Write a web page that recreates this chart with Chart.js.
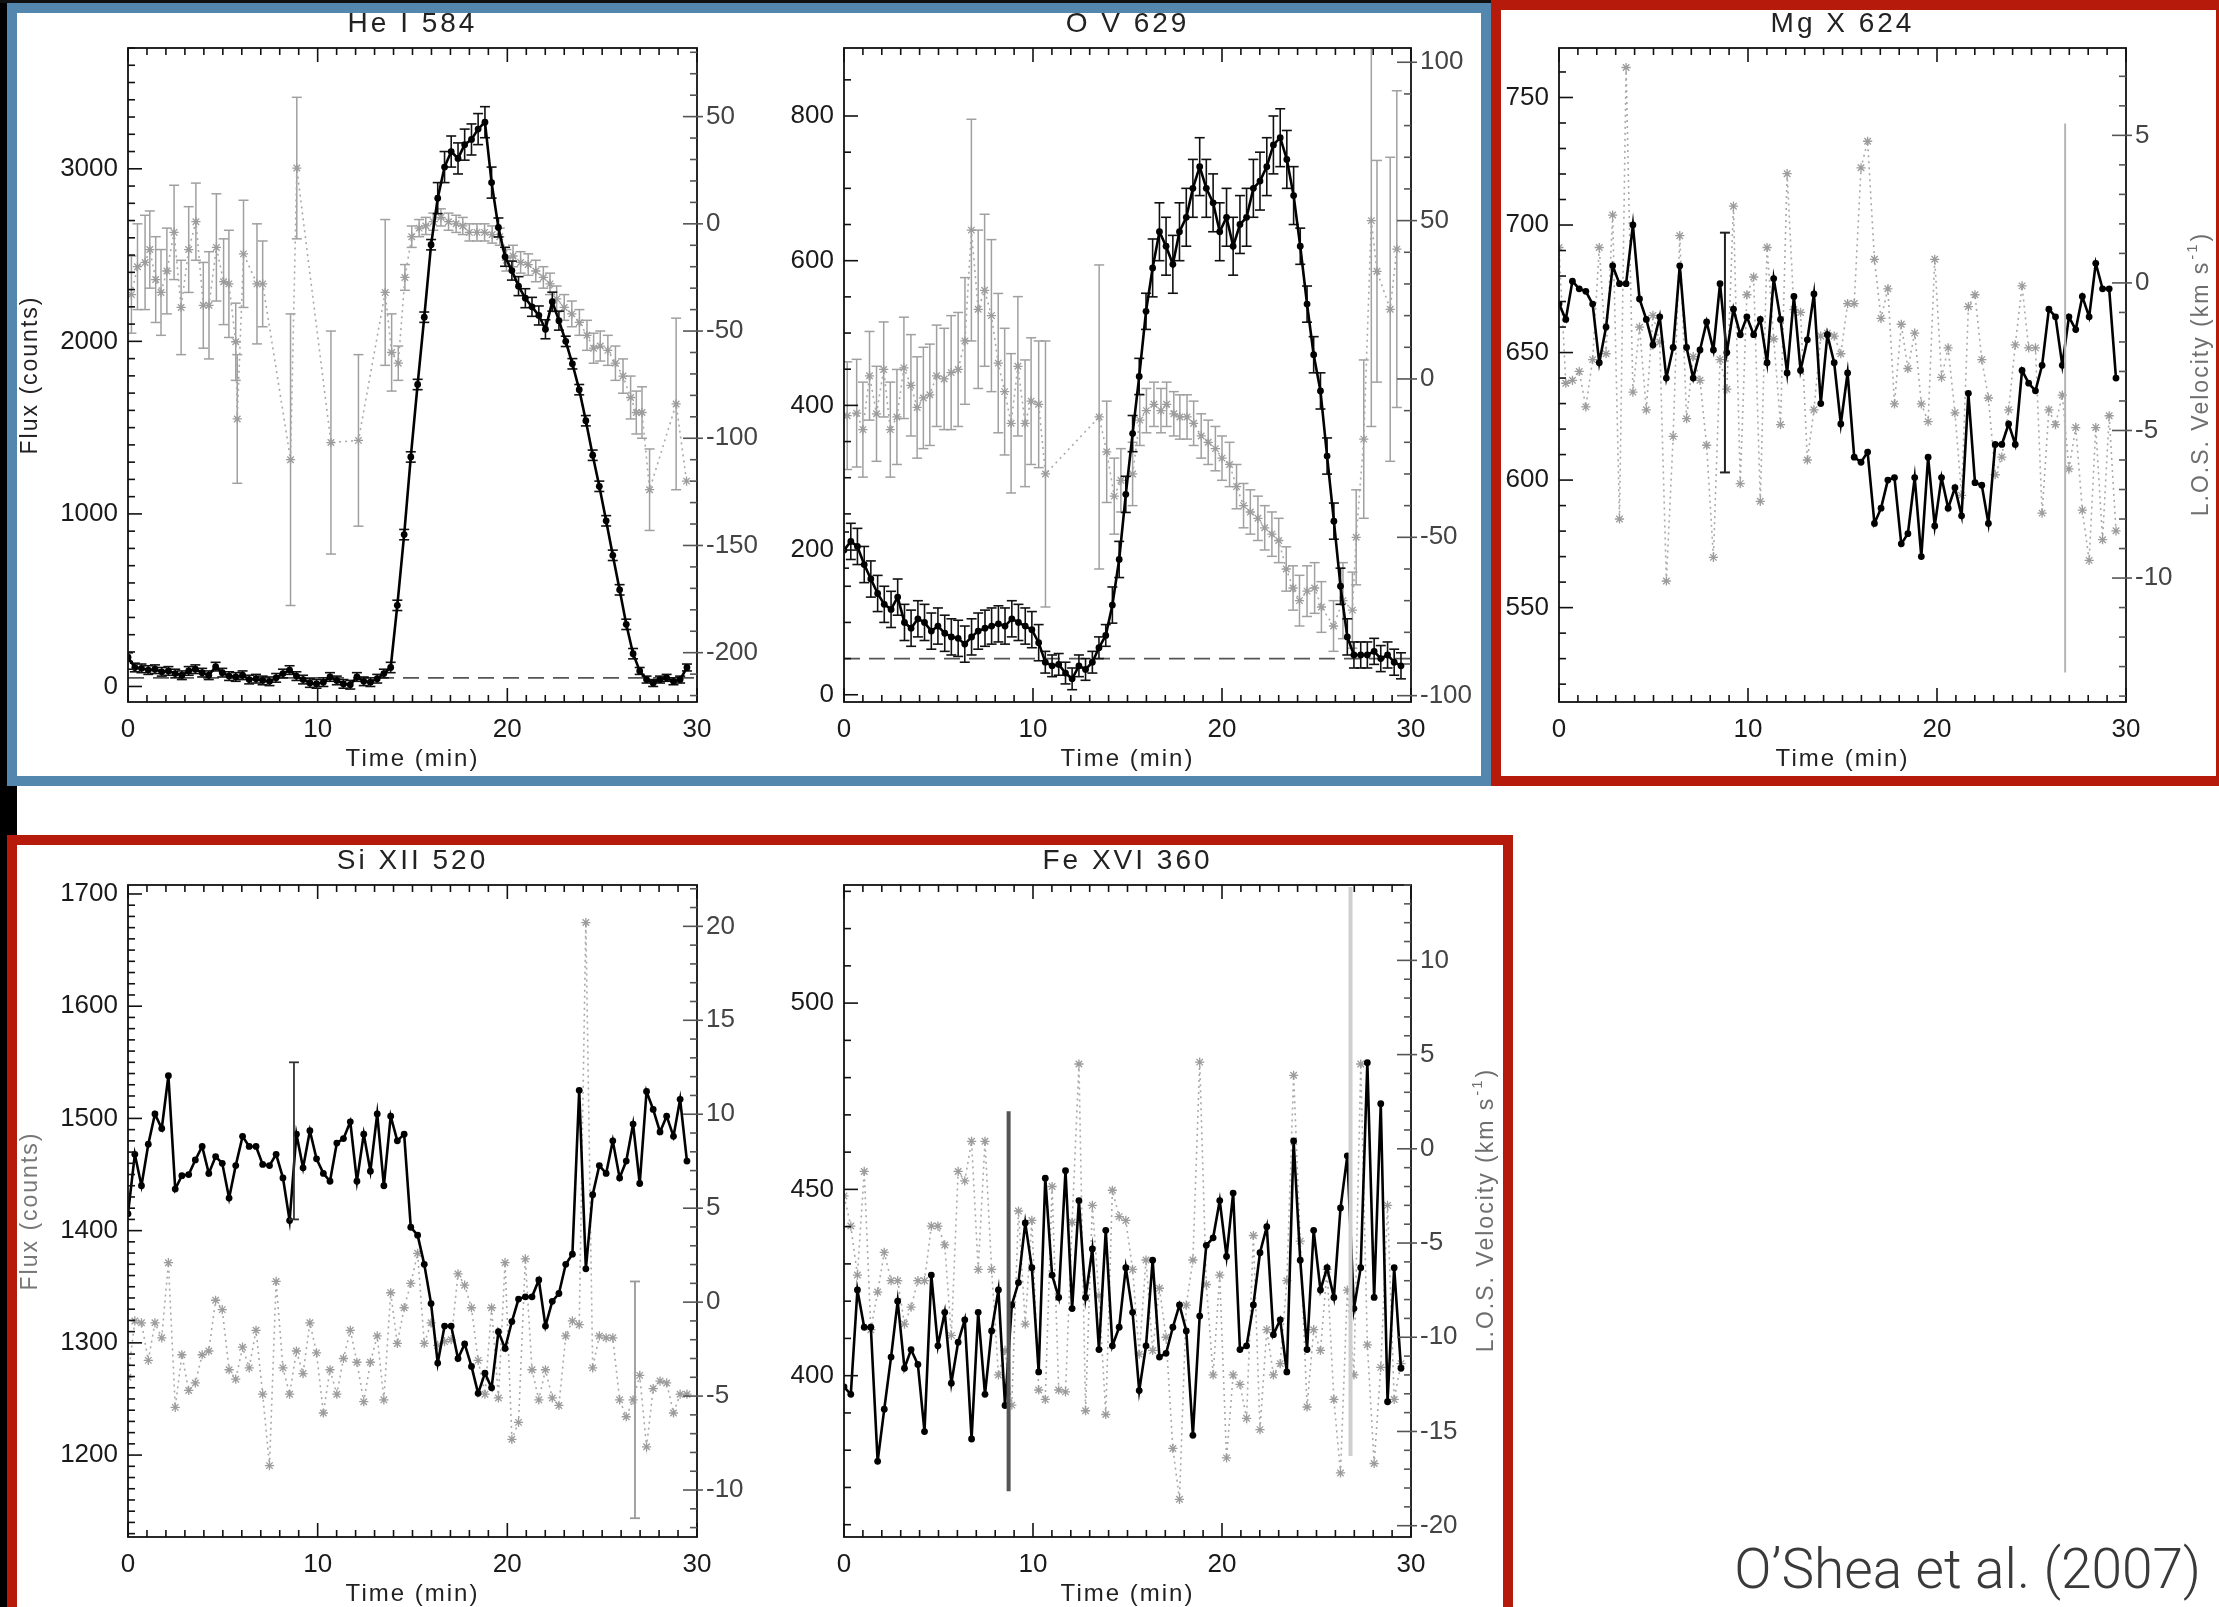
<!DOCTYPE html>
<html><head><meta charset="utf-8">
<script src="https://cdn.jsdelivr.net/npm/chart.js@4.4.1/dist/chart.umd.min.js"></script>
<style>
html,body{margin:0;padding:0;background:#fff;}
body{width:2219px;height:1607px;position:relative;overflow:hidden;}
.box{position:absolute;box-sizing:border-box;}
canvas{position:absolute;}
#cite{position:absolute;right:18px;top:1542px;font-family:Roboto,"Liberation Sans",Arial,sans-serif;font-weight:300;font-size:55px;line-height:55px;color:#3a3a3a;white-space:nowrap;}
</style></head><body>
<div class="box" style="left:0;top:0;width:7px;height:1607px;background:#000"></div>
<div class="box" style="left:0;top:786px;width:17px;height:49px;background:#000"></div>
<div class="box" style="left:0;top:0;width:2219px;height:3px;background:#111"></div>
<div class="box" style="left:7px;top:3px;width:1484px;height:783px;border:10px solid #5487ae"></div>
<div class="box" style="left:1491px;top:0px;width:735px;height:786px;border:10px solid #b51a0b"></div>
<div class="box" style="left:7px;top:835px;width:1506px;height:800px;border:10px solid #b51a0b"></div>
<div id="cite">O’Shea et al. (2007)</div>
<script>
// ---------- DATA ----------
const T = [0.00,0.36,0.71,1.07,1.42,1.78,2.13,2.49,2.84,3.20,3.55,3.91,4.26,4.62,4.97,5.33,5.68,6.04,6.39,6.75,
7.10,7.46,7.81,8.17,8.52,8.88,9.23,9.59,9.94,10.30,10.65,11.01,11.36,11.72,12.07,12.43,12.78,13.14,13.49,13.85,
14.20,14.56,14.91,15.27,15.62,15.98,16.33,16.69,17.04,17.40,17.75,18.11,18.46,18.82,19.17,19.53,19.88,20.24,20.59,20.95,
21.30,21.66,22.01,22.37,22.72,23.08,23.43,23.79,24.14,24.50,24.85,25.21,25.56,25.92,26.27,26.63,26.98,27.34,27.69,28.05,
28.40,28.76,29.11,29.47];

const TITLES = ['He I 584','O V 629','Mg X 624','Si XII 520','Fe XVI 360'];
const X_TICKS = [0,10,20,30];

// He I 584
const HE_FLUX = [170,110,105,95,100,85,90,75,65,90,100,80,65,115,80,60,55,65,40,45,
35,30,50,75,95,60,40,20,15,25,55,35,15,10,55,30,25,45,75,110,
470,880,1330,1750,2140,2560,2830,3010,3100,3060,3140,3170,3230,3270,2920,2660,2490,2410,2320,2250,
2200,2150,2070,2230,2120,2000,1870,1720,1540,1340,1160,960,760,560,360,190,90,40,20,40,
50,30,40,110];
const HE_FLUX_ERR = [25,25,25,25,25,25,25,25,25,25,25,25,25,25,25,25,25,25,25,25,
25,25,25,25,25,25,25,25,25,25,25,25,25,25,25,25,25,25,25,30,
30,30,30,30,30,30,90,90,90,90,90,90,90,90,90,55,55,55,55,55,
55,55,55,55,55,30,30,30,30,30,30,30,30,30,30,30,20,20,20,20,
20,20,20,20];
const HE_VEL_T = [0.18,0.50,0.90,1.15,1.46,1.74,2.05,2.43,2.80,3.20,3.58,3.97,4.27,4.66,5.04,5.32,5.68,5.76,6.09,6.80,
7.10,8.57,8.90,10.70,12.15,13.56,13.90,14.25,14.60,14.96,15.35,15.70,16.10,16.50,16.90,17.30,17.65,18.00,18.40,18.80,
19.20,19.60,19.95,20.30,20.70,21.10,21.50,21.90,22.25,22.60,23.00,23.40,23.80,24.20,24.55,24.90,25.30,25.70,26.10,26.50,
26.80,27.10,27.50,28.90,29.45];
const HE_VEL = [-33,-20,-18,-12,-26,-32,-22,-4,-39,-12,1,-38,-38,-11,-27,-28,-55,-91,-14,-28,
-28,-110,26,-102,-101,-32,-60,-65,-25,-6,-2,-1,1,3,1,0,-1,-4,-4,-4,
-5,-6,-17,-15,-18,-19,-22,-25,-28,-35,-39,-42,-46,-52,-58,-57,-59,-65,-71,-81,
-88,-88,-124,-84,-120];
const HE_VEL_ERR = [18,20,22,18,20,20,20,22,22,20,18,20,25,25,20,25,18,30,25,28,
20,68,33,52,40,34,18,8,6,5,4,4,4,4,4,4,4,4,4,4,
4,4,5,5,5,5,5,5,5,6,6,6,6,7,7,7,7,8,8,10,
10,12,19,40,0];
const HE_BACKGROUND = 50;
const HE_LEFT_TICKS = [0,1000,2000,3000];
const HE_RIGHT_TICKS = [50,0,-50,-100,-150,-200];

// O V 629
const OV_FLUX = [200,212,205,180,160,140,125,118,135,100,92,105,100,88,95,85,80,78,70,80,
88,92,95,98,95,105,100,95,90,72,45,40,42,30,22,40,35,45,65,82,
124,187,277,361,440,530,590,640,620,595,640,660,700,730,700,680,640,660,620,650,
660,700,710,730,760,770,740,690,620,540,470,420,330,240,150,80,55,55,55,60,
50,55,45,40];
const OV_FLUX_ERR = [25,25,25,25,25,25,25,25,25,25,25,25,25,25,25,25,25,25,25,25,
25,25,25,25,25,25,25,25,25,25,15,15,15,15,15,15,15,15,15,15,
25,25,25,25,25,25,40,40,40,40,40,40,40,40,40,40,40,40,40,40,
40,40,40,40,40,40,40,40,25,25,25,25,25,25,25,25,18,18,18,18,
18,18,18,18];
const OV_VEL_T = [0.17,0.67,1.00,1.35,1.72,2.10,2.45,2.80,3.17,3.54,3.87,4.20,4.54,4.90,5.30,5.67,6.04,6.40,6.74,7.10,
7.44,7.80,8.16,8.50,8.84,9.20,9.58,9.90,10.30,10.66,13.50,13.90,14.30,14.65,15.27,15.65,16.00,16.40,16.77,17.07,
17.45,17.77,18.15,18.50,18.90,19.27,19.65,20.00,20.40,20.77,21.14,21.50,21.90,22.26,22.64,23.00,23.40,23.76,24.10,24.50,
24.90,25.26,25.90,26.40,26.90,27.10,27.50,27.90,28.20,28.90,29.25];
const OV_VEL = [-11.6,-10.8,-16,1,-11,3,-16,-12,3.5,-2,-9,-6,-5,1,0,2,3,12,47,22,
28,20,5,-4,-14,4,-14,-7,-8,-30,-12,-23,-37,-32,-30,-13,-10,-8,-10,-8,
-11,-12,-12,-14,-18,-20,-22,-25,-27,-34,-40,-42,-44,-47,-49,-51,-60,-66,-70,-67,
-66,-72,-78,-70,-73,-50,-19,50,34,22,41];
const OV_VEL_ERR = [17,17,15,14,15,15,15,15,16,16,16,16,16,16,16,18,18,20,35,25,
24,24,22,20,22,22,20,20,20,42,48,16,12,10,10,8,7,7,7,7,
7,7,7,7,7,7,7,7,7,7,7,7,7,7,7,7,7,7,8,8,
8,8,8,12,12,15,25,65,35,48,50];
const OV_BACKGROUND = 50;
const OV_LEFT_TICKS = [0,200,400,600,800];
const OV_RIGHT_TICKS = [100,50,0,-50,-100];

// Mg X 624
const MG_FLUX = [669,663,678,675,674,669,646,660,684,677,677,700,671,663,653,664,640,652,684,652,
640,651,662,651,677,650,667,657,664,657,663,646,679,663,642,672,643,655,673,630,
657,646,622,642,609,607,611,583,589,600,601,575,579,601,570,609,582,601,589,597,
586,634,599,598,583,614,614,622,614,643,638,635,645,667,664,645,664,659,672,664,
685,675,675,640];
const MG_VEL = [1.2,-3.4,-3.3,-3.0,-4.2,-2.6,1.2,-2.4,2.3,-8.0,7.3,-3.7,-1.5,-4.3,-1.1,-2.0,-10.1,-5.2,1.6,-4.6,
-2.5,-3.3,-5.5,-9.3,-2.6,-3.6,2.6,-6.8,-0.4,0.2,-7.4,1.2,-1.9,-4.8,3.7,-0.9,-1.0,-6.0,-4.3,-1.8,
-1.7,-1.8,-2.4,-0.7,-0.7,3.9,4.8,0.8,-1.2,-0.2,-4.1,-1.4,-2.9,-1.7,-4.1,-4.7,0.8,-3.2,-2.2,-4.4,
-7.2,-0.8,-0.4,-2.6,-3.9,-6.5,-5.9,-4.3,-2.1,-0.1,-2.2,-2.2,-7.8,-4.3,-4.8,-3.8,-6.3,-4.9,-7.7,-9.4,
-4.9,-8.7,-4.5,-8.4];
const MG_FLUX_BAR = [8.78, 650, 47];     // time, value, half-error
const MG_VEL_BAR = [26.78, -3.9, 9.3];
const MG_LEFT_TICKS = [550,600,650,700,750];
const MG_RIGHT_TICKS = [5,0,-5,-10];

// Si XII 520
const SI_FLUX = [1415,1468,1440,1477,1504,1491,1538,1437,1449,1450,1463,1475,1451,1466,1460,1429,1458,1484,1475,1475,
1459,1458,1468,1447,1409,1486,1456,1489,1464,1451,1444,1478,1482,1497,1444,1486,1453,1504,1440,1502,
1480,1486,1403,1396,1370,1335,1282,1315,1315,1286,1299,1279,1255,1273,1260,1310,1295,1319,1339,1341,
1341,1356,1315,1337,1344,1370,1379,1525,1366,1432,1458,1451,1480,1447,1462,1495,1442,1524,1508,1488,
1502,1484,1517,1462];
const SI_VEL = [-4.0,-1.0,-1.1,-3.1,-1.1,-1.9,2.1,-5.6,-2.8,-4.7,-4.3,-2.8,-2.6,0.1,-0.4,-3.6,-4.1,-2.4,-3.5,-1.5,
-4.9,-8.7,1.1,-3.5,-4.9,-2.6,-3.8,-1.1,-2.7,-5.9,-3.6,-4.9,-3.0,-1.5,-3.2,-5.3,-3.2,-1.8,-5.2,0.5,
-2.2,-0.3,1.0,2.6,-2.2,-1.1,-2.3,-2.1,-2.0,1.5,0.9,-0.3,-3.1,-4.9,-0.3,-5.1,2.1,-7.3,-6.4,2.3,
-3.6,-5.2,-3.6,-5.1,-5.5,-1.8,-1.0,-1.2,20.2,-3.5,-1.8,-1.9,-1.9,-5.2,-6.1,-5.2,-3.9,-7.7,-4.6,-4.2,
-4.3,-5.9,-4.9,-4.9];
const SI_FLUX_BAR = [8.75, 1480, 70];
const SI_VEL_BAR = [26.73, -5.2, 6.3];
const SI_LEFT_TICKS = [1200,1300,1400,1500,1600,1700];
const SI_RIGHT_TICKS = [20,15,10,5,0,-5,-10];

// Fe XVI 360
const FE_FLUX = [397,395,423,413,413,377,391,405,420,402,407,403,385,427,408,417,398,409,415,383,
417,395,412,423,392,419,425,441,429,401,453,427,421,455,418,447,421,434,407,439,
408,413,429,417,396,408,431,405,406,413,419,412,384,416,435,437,447,432,449,407,
408,419,433,440,411,415,401,463,431,407,439,423,429,421,445,459,418,429,484,421,
473,393,429,402];
const FE_VEL = [-2.5,-4.1,-6.7,-1.2,-9.6,-7.6,-5.5,-7.0,-7.0,-9.3,-8.4,-7.0,-7.0,-4.1,-4.1,-5.1,-9.9,-1.2,-1.7,0.4,
-6.4,0.4,-6.4,-12.0,-10.7,-13.6,-3.3,-9.3,-3.8,-12.8,-13.3,-2.0,-12.8,-12.9,-3.9,4.5,-13.9,-3.0,-7.8,-14.1,
-2.2,-3.6,-3.8,-6.4,-10.9,-5.9,-10.7,-7.4,-10.0,-15.9,-18.6,-8.3,-5.9,4.6,-7.2,-12.0,-6.7,-16.4,-12.0,-12.5,
-14.3,-4.6,-14.9,-9.6,-12.0,-11.4,-7.0,3.9,-4.9,-13.7,-9.6,-10.7,-6.4,-13.3,-17.2,-7.5,-12.0,4.5,-10.4,-16.7,
-11.6,-3.0,-13.3,-11.4];
const FE_FLUX_BAR = [8.71, 420, 51];
const FE_VEL_BAR = [26.8, -1.2, 15.1];
const FE_LEFT_TICKS = [400,450,500];
const FE_RIGHT_TICKS = [10,5,0,-5,-10,-15,-20];

// ---------- RENDERING ----------
const FONT = '"Liberation Sans", Arial, Helvetica, sans-serif';
Chart.defaults.font.family = FONT;

function pts(ts, vs){ return ts.map((t,i)=>({x:t, y:vs[i]})); }

function fluxSet(vals, errs){
  return {data:pts(T, vals), yAxisID:'y', borderColor:'#000', borderWidth:2.6, tension:0,
    pointStyle:'circle', pointRadius:3.4, pointBackgroundColor:'#000', pointBorderColor:'#000', pointBorderWidth:0,
    errs:errs, errColor:'#111', errWidth:1.6, capW:5, order:1};
}
function velSet(ts, vals, errs){
  return {data:pts(ts, vals), yAxisID:'y2', borderColor:'#a9a9a9', borderWidth:1.6, borderDash:[2,4], tension:0,
    pointStyle:'star', pointRadius:4.6, pointBorderColor:'#9c9c9c', pointBackgroundColor:'#9c9c9c', pointBorderWidth:1.3,
    errs:errs, errColor:'#a0a0a0', errWidth:1.5, capW:5, order:2};
}
function bgSet(level){
  return {data:[{x:0,y:level},{x:30,y:level}], yAxisID:'y', borderColor:'#555', borderWidth:1.6,
    borderDash:[16,9], pointRadius:0, order:3};
}
function barSet(bar, axis, color, width, cap){
  return {data:[{x:bar[0], y:bar[1]}], yAxisID:axis, showLine:false, pointRadius:0,
    errs:[bar[2]], errColor:color, errWidth:width, capW:cap, order:0};
}

const PANELS = [
 {title:TITLES[0], area:[128,48,697,702], yl:[-90,3700], yr:[-223,82], lTicks:HE_LEFT_TICKS, rTicks:HE_RIGHT_TICKS, lMinor:100, rMinor:10,
  leftTitle:'Flux (counts)', leftTitleColor:'#222', rightTitle:false,
  datasets:[fluxSet(HE_FLUX,HE_FLUX_ERR), velSet(HE_VEL_T,HE_VEL,HE_VEL_ERR), bgSet(HE_BACKGROUND)]},
 {title:TITLES[1], area:[844,48,1411,702], yl:[-10,894], yr:[-102,104.5], lTicks:OV_LEFT_TICKS, rTicks:OV_RIGHT_TICKS, lMinor:50, rMinor:10,
  leftTitle:null, rightTitle:false,
  datasets:[fluxSet(OV_FLUX,OV_FLUX_ERR), velSet(OV_VEL_T,OV_VEL,OV_VEL_ERR), bgSet(OV_BACKGROUND)]},
 {title:TITLES[2], area:[1559,48,2126,702], yl:[513,769.4], yr:[-14.2,7.96], lTicks:MG_LEFT_TICKS, rTicks:MG_RIGHT_TICKS, lMinor:10, rMinor:1,
  leftTitle:null, rightTitle:true,
  datasets:[fluxSet(MG_FLUX,null), velSet(T,MG_VEL,null), barSet(MG_FLUX_BAR,'y','#222',2,5), barSet(MG_VEL_BAR,'y2','#b5b5b5',2,0)]},
 {title:TITLES[3], area:[128,885,697,1537], yl:[1127,1708], yr:[-12.5,22.2], lTicks:SI_LEFT_TICKS, rTicks:SI_RIGHT_TICKS, lMinor:10, rMinor:1,
  leftTitle:'Flux (counts)', leftTitleColor:'#777', rightTitle:false,
  datasets:[fluxSet(SI_FLUX,null), velSet(T,SI_VEL,null), barSet(SI_FLUX_BAR,'y','#333',1.8,5), barSet(SI_VEL_BAR,'y2','#999',1.8,5)]},
 {title:TITLES[4], area:[844,885,1411,1537], yl:[356.7,531.7], yr:[-20.6,14.0], lTicks:FE_LEFT_TICKS, rTicks:FE_RIGHT_TICKS, lMinor:10, rMinor:1,
  leftTitle:null, rightTitle:true,
  datasets:[fluxSet(FE_FLUX,null), velSet(T,FE_VEL,null), barSet(FE_FLUX_BAR,'y','#555',4,0), barSet(FE_VEL_BAR,'y2','#cfcfcf',4,0)]}
];

function line(ctx,x1,y1,x2,y2){ ctx.beginPath(); ctx.moveTo(x1,y1); ctx.lineTo(x2,y2); ctx.stroke(); }

function makePanel(p){
  const padL=110, padR=100, padT=50, padB=80;
  const [L,Tp,R,B] = p.area;
  const W = R-L+padL+padR, H = B-Tp+padT+padB;
  const cv = document.createElement('canvas');
  cv.width=W; cv.height=H;
  cv.style.left=(L-padL)+'px'; cv.style.top=(Tp-padT)+'px'; cv.style.width=W+'px'; cv.style.height=H+'px';
  document.body.appendChild(cv);

  const decor = {
    id:'decor'+p.title.replace(/\s/g,''),
    beforeDatasetDraw(chart, args){
      const ds = chart.data.datasets[args.index];
      if(!ds.errs) return;
      const xs = chart.scales.x, ys = chart.scales[ds.yAxisID], a = chart.chartArea, ctx = chart.ctx;
      ctx.save();
      ctx.beginPath(); ctx.rect(a.left, a.top, a.right-a.left, a.bottom-a.top); ctx.clip();
      ctx.strokeStyle = ds.errColor; ctx.lineWidth = ds.errWidth; ctx.setLineDash([]);
      ds.data.forEach((d,i)=>{
        const e = ds.errs[i]; if(!e) return;
        const x = xs.getPixelForValue(d.x), y1 = ys.getPixelForValue(d.y-e), y2 = ys.getPixelForValue(d.y+e);
        line(ctx,x,y1,x,y2);
        if(ds.capW){ line(ctx,x-ds.capW,y1,x+ds.capW,y1); line(ctx,x-ds.capW,y2,x+ds.capW,y2); }
      });
      ctx.restore();
    },
    afterDatasetsDraw(chart){
      const ctx=chart.ctx, a=chart.chartArea, xs=chart.scales.x, yl=chart.scales.y, yr=chart.scales.y2;
      ctx.save(); ctx.setLineDash([]); ctx.lineCap='butt';
      ctx.strokeStyle='#111'; ctx.lineWidth=1.8;
      ctx.strokeRect(a.left, a.top, a.right-a.left, a.bottom-a.top);
      ctx.lineWidth=1.6;
      for(let k=0;k<=30;k++){
        const x=xs.getPixelForValue(k), len=(k%10===0)?14:7;
        line(ctx,x,a.bottom,x,a.bottom-len); line(ctx,x,a.top,x,a.top+len);
      }
      for(let k=Math.ceil(yl.min/p.lMinor); k*p.lMinor<=yl.max; k++){
        const v=k*p.lMinor, y=yl.getPixelForValue(v);
        const major=p.lTicks.some(t=>Math.abs(t-v)<1e-6);
        line(ctx,a.left,y,a.left+(major?14:7),y);
      }
      ctx.strokeStyle='#555';
      for(let k=Math.ceil(yr.min/p.rMinor); k*p.rMinor<=yr.max; k++){
        const v=k*p.rMinor, y=yr.getPixelForValue(v);
        const major=p.rTicks.some(t=>Math.abs(t-v)<1e-6);
        line(ctx,a.right,y,a.right-(major?14:7),y);
        if(major) line(ctx,a.right,y,a.right+6,y);
      }
      ctx.restore();
    },
    afterDraw(chart){
      const ctx=chart.ctx, a=chart.chartArea;
      const cx=(a.left+a.right)/2, cy=(a.top+a.bottom)/2;
      ctx.save();
      ctx.textAlign='center'; ctx.textBaseline='middle';
      ctx.fillStyle='#222';
      ctx.letterSpacing='3px';
      ctx.font='28px '+FONT;
      ctx.fillText(p.title, cx, a.top-24);
      ctx.letterSpacing='2px';
      ctx.font='24px '+FONT;
      ctx.fillText('Time (min)', cx, a.bottom+57);
      if(p.leftTitle){
        ctx.save(); ctx.translate(a.left-97, cy); ctx.rotate(-Math.PI/2);
        ctx.fillStyle=p.leftTitleColor; ctx.font='23px '+FONT;
        ctx.fillText(p.leftTitle,0,0); ctx.restore();
      }
      if(p.rightTitle){
        ctx.save(); ctx.translate(a.right+76, cy); ctx.rotate(-Math.PI/2);
        ctx.fillStyle='#6e6e6e'; ctx.textAlign='left';
        const s1='L.O.S. Velocity (km s', s2='-1', s3=')';
        ctx.font='23px '+FONT; const w1=ctx.measureText(s1).width, w3=ctx.measureText(s3).width;
        ctx.font='15px '+FONT; const w2=ctx.measureText(s2).width;
        const x0=-(w1+w2+w3)/2;
        ctx.font='23px '+FONT; ctx.fillText(s1,x0,0);
        ctx.font='15px '+FONT; ctx.fillText(s2,x0+w1+1,-9);
        ctx.font='23px '+FONT; ctx.fillText(s3,x0+w1+w2+2,0);
        ctx.restore();
      }
      ctx.restore();
    }
  };

  const tickFont = {family:FONT, size:26};
  new Chart(cv, {
    type:'line',
    data:{datasets:p.datasets},
    options:{
      responsive:false, animation:false, devicePixelRatio:1,
      layout:{padding:{top:padT,left:0,right:0,bottom:0}},
      plugins:{legend:{display:false}, tooltip:{enabled:false}, title:{display:false}},
      scales:{
        x:{type:'linear', position:'bottom', min:0, max:30, bounds:'data',
           afterFit:s=>{s.height=padB;},
           afterBuildTicks:s=>{s.ticks=X_TICKS.map(v=>({value:v}));},
           grid:{display:false, drawTicks:false}, border:{display:false},
           ticks:{padding:12, color:'#1a1a1a', font:tickFont, maxRotation:0, autoSkip:false, callback:v=>String(v)}},
        y:{type:'linear', position:'left', min:p.yl[0], max:p.yl[1], bounds:'data',
           afterFit:s=>{s.width=padL;},
           afterBuildTicks:s=>{s.ticks=p.lTicks.map(v=>({value:v}));},
           grid:{display:false, drawTicks:false}, border:{display:false},
           ticks:{padding:10, color:'#1a1a1a', font:tickFont, autoSkip:false, callback:v=>String(v)}},
        y2:{type:'linear', position:'right', min:p.yr[0], max:p.yr[1], bounds:'data',
           afterFit:s=>{s.width=padR;},
           afterBuildTicks:s=>{s.ticks=p.rTicks.map(v=>({value:v}));},
           grid:{display:false, drawTicks:false}, border:{display:false},
           ticks:{padding:9, color:'#444', font:tickFont, autoSkip:false, callback:v=>String(v)}}
      }
    },
    plugins:[decor]
  });
}
PANELS.forEach(makePanel);
</script>
</body></html>
